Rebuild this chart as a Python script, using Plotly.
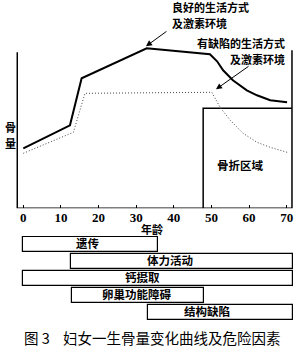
import plotly.graph_objects as go

# ---- data ----
solid_age = [0, 12.4, 15.5, 32.8, 49.6, 51.5, 53.1, 55.7, 59.4, 62.1, 65.6, 70.1]
solid_bm = [60, 83, 130, 160, 154, 147, 138, 128, 118, 113, 108, 106]

dotted_age = [0, 13.3, 16.4, 50.1, 52.3, 55.0, 58.4, 62.1, 65.6, 70.1]
dotted_bm = [55, 76, 115, 116, 101, 88, 75, 66, 61, 56]

tick_vals = [0, 10, 20, 30, 40, 50, 60, 70]

factor_names = ["遗传", "体力活动", "钙摄取", "卵巢功能障碍", "结构缺陷"]
factor_start = [0, 12.7, 0, 12.9, 33.2]
factor_end = [35.8, 71.7, 71.7, 48.0, 71.7]
factor_label_age = [17.2, 39.0, 31.8, 30.2, 48.8]

fracture_start, fracture_end, fracture_top = 47.8, 71.4, 100
axis_left, axis_right = -1.6, 71.4
axis_left_top, axis_right_top = 156, 158

W, H = 300, 351
X0PX, PXPERYR = 23.3, 3.763
xr = [-X0PX / PXPERYR, (W - X0PX) / PXPERYR]

CJK = "Noto Sans CJK SC"
SERIF = "Liberation Serif"

fig = go.Figure()

# frame (left axis, bottom axis, right side)
fig.add_trace(go.Scatter(x=[axis_left, axis_left, axis_right, axis_right],
                         y=[axis_left_top, 0, 0, axis_right_top], mode="lines",
                         line=dict(color="black", width=1.5), showlegend=False,
                         hoverinfo="skip", cliponaxis=False))
# fracture zone
fig.add_trace(go.Scatter(x=[fracture_start, fracture_start, fracture_end],
                         y=[0, fracture_top, fracture_top], mode="lines",
                         line=dict(color="black", width=1.5), showlegend=False,
                         hoverinfo="skip", cliponaxis=False))

fig.add_trace(go.Scatter(x=solid_age, y=solid_bm, mode="lines",
                         line=dict(color="black", width=2), showlegend=False,
                         hoverinfo="skip", cliponaxis=False))
fig.add_trace(go.Scatter(x=dotted_age, y=dotted_bm, mode="lines",
                         line=dict(color="#444", width=1, dash="1px,2px"),
                         showlegend=False, hoverinfo="skip", cliponaxis=False))

lengths = [e - s for s, e in zip(factor_start, factor_end)]
fig.add_trace(go.Bar(y=list(range(len(factor_names))), x=lengths, base=factor_start,
                     orientation="h", yaxis="y2", width=0.86,
                     marker=dict(color="white", line=dict(color="black", width=1.2)),
                     showlegend=False, hoverinfo="skip"))

ann = []
bold = dict(family=CJK, size=11, color="black", weight="bold")
bold2 = dict(family=CJK, size=11.5, color="black", weight="bold")
for name, a, i in zip(factor_names, factor_label_age, range(len(factor_names))):
    ann.append(dict(x=a, y=i, xref="x", yref="y2", text=name, showarrow=False,
                    font=bold2, xanchor="center", yanchor="middle", yshift=2))


def px(xp, yp):
    return xp / W, (H - yp) / H


ann += [
    dict(x=px(170, 6.9)[0], y=px(170, 6.9)[1], xref="paper", yref="paper",
         text="良好的生活方式", showarrow=False, xanchor="left", yanchor="middle", font=bold),
    dict(x=px(170, 23.1)[0], y=px(170, 23.1)[1], xref="paper", yref="paper",
         text="及激素环境", showarrow=False, xanchor="left", yanchor="middle", font=bold),
    dict(x=px(287, 43)[0], y=px(287, 43)[1], xref="paper", yref="paper",
         text="有缺陷的生活方式", showarrow=False, xanchor="right", yanchor="middle", font=bold),
    dict(x=px(287, 59.2)[0], y=px(287, 59.2)[1], xref="paper", yref="paper",
         text="及激素环境", showarrow=False, xanchor="right", yanchor="middle", font=bold),
    dict(x=32.6, y=162, xref="x", yref="y", text="", showarrow=True, ax=22, ay=-16,
         arrowhead=2, arrowsize=1.2, arrowwidth=1, arrowcolor="black"),
    dict(x=51.2, y=119, xref="x", yref="y", text="", showarrow=True, ax=34, ay=-24,
         arrowhead=2, arrowsize=1.2, arrowwidth=1, arrowcolor="black"),
    dict(x=57.6, y=43, xref="x", yref="y", text="骨折区域", showarrow=False, font=bold2),
    dict(x=px(2.5, 127)[0], y=px(2.5, 127)[1], xref="paper", yref="paper", text="骨",
         showarrow=False, xanchor="left", font=bold),
    dict(x=px(2.5, 143.2)[0], y=px(2.5, 143.2)[1], xref="paper", yref="paper", text="量",
         showarrow=False, xanchor="left", font=bold),
    dict(x=px(152, 228.5)[0], y=px(152, 228.5)[1], xref="paper", yref="paper", text="年龄",
         showarrow=False, font=bold),
    dict(x=px(22, 337)[0], y=px(22, 337)[1], xref="paper", yref="paper", text="图 3",
         showarrow=False, xanchor="left", yanchor="middle",
         font=dict(family=CJK, size=14.5, color="black")),
    dict(x=px(61, 337)[0], y=px(61, 337)[1], xref="paper", yref="paper",
         text="妇女一生骨量变化曲线及危险因素", showarrow=False,
         xanchor="left", yanchor="middle", font=dict(family=CJK, size=14.5, color="black")),
]

fig.update_layout(
    width=W, height=H, margin=dict(l=0, r=0, t=0, b=0),
    paper_bgcolor="white", plot_bgcolor="white",
    xaxis=dict(range=xr, domain=[0, 1], tickvals=tick_vals, ticks="inside", ticklen=3,
               tickcolor="black", showline=False, showgrid=False, zeroline=False,
               tickfont=dict(family=SERIF, size=13, color="black", weight="bold"),
               fixedrange=True),
    yaxis=dict(range=[0, 168.3], domain=[(H - 208.3) / H, (H - 40) / H], visible=False,
               fixedrange=True),
    yaxis2=dict(range=[4.5, -0.5], domain=[(H - 321) / H, (H - 236) / H], visible=False,
                anchor="x", fixedrange=True),
    annotations=ann, bargap=0,
)

fig.write_html("out.html")
